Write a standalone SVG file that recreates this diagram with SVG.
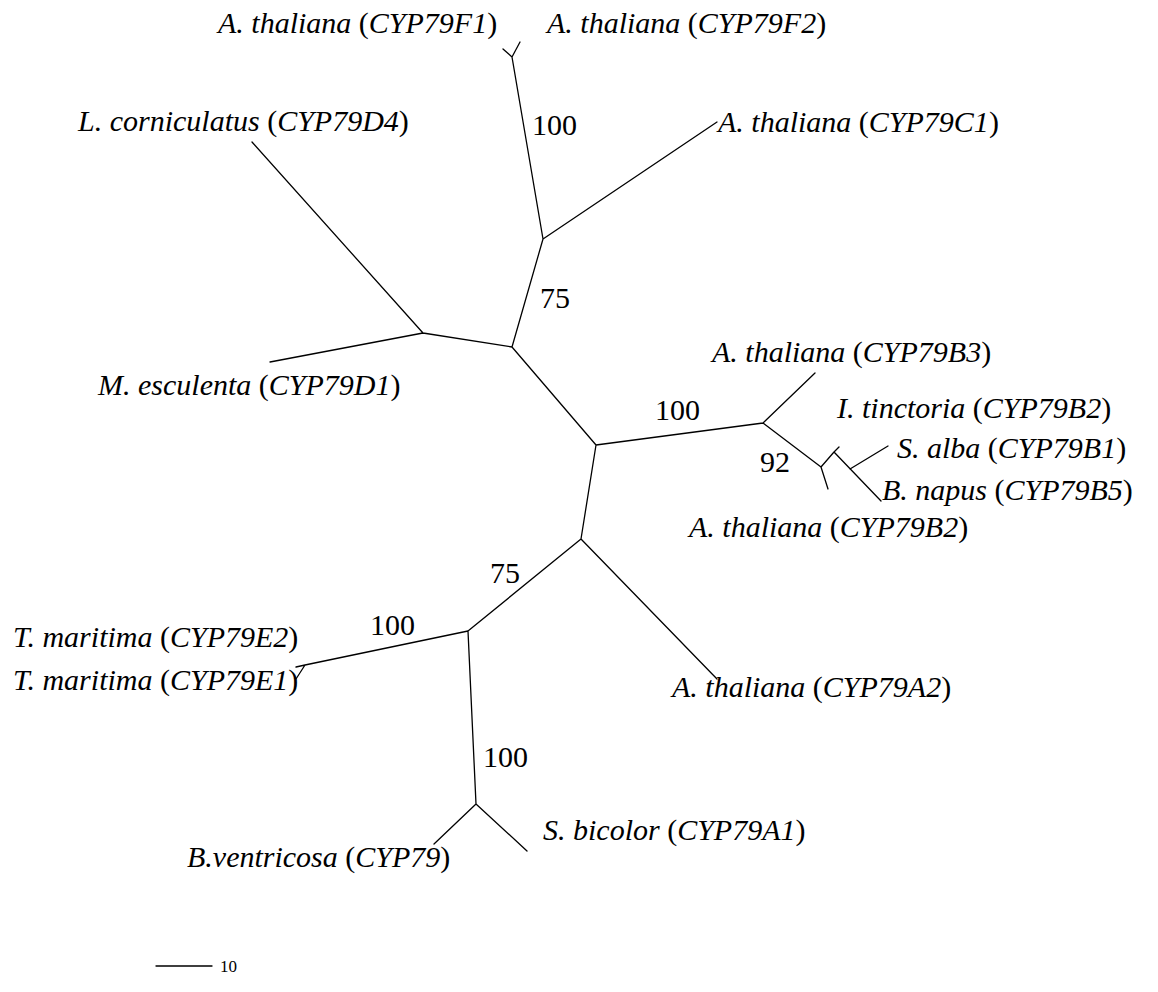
<svg xmlns="http://www.w3.org/2000/svg" width="1158" height="992" viewBox="0 0 1158 992">
<style>
.t{font-family:"Liberation Serif","Times New Roman",serif;font-size:30px;fill:#000}
.i{font-style:italic}
.b{font-family:"Liberation Serif","Times New Roman",serif;font-size:30px;fill:#000}
.s{font-family:"Liberation Serif","Times New Roman",serif;font-size:17px;fill:#000}
.e{stroke:#000;stroke-width:1.3;fill:none;stroke-linecap:round;stroke-linejoin:round}
</style>
<rect width="1158" height="992" fill="#fff"/>
<g id="connectors" class="e">
<path d="M512,57 L503,49 M512,57 L520,42 M512,57 L543,239 L717,122 M543,239 L512,347 L423,333 L252,142 M423,333 L270,362 M512,347 L596,445 L763,423 L815,373 M763,423 L821,467 L828,489 M821,467 L834,452 L839,447 M834,452 L881,501 M850,469 L888,446 M596,445 L581,539 L717,679 M581,539 L468,631 L305,665 L296,667 M305,665 L296,679 M468,631 L476,804 L434,844 M476,804 L527,851"/>
<path d="M156,966 L212,966"/>
</g>
<g id="n-F1"><text class="t" x="218" y="33"><tspan class="i">A. thaliana</tspan> (<tspan class="i">CYP79F1</tspan>)</text></g>
<g id="n-F2"><text class="t" x="547" y="33"><tspan class="i">A. thaliana</tspan> (<tspan class="i">CYP79F2</tspan>)</text></g>
<g id="n-C1"><text class="t" x="718" y="132"><tspan class="i">A. thaliana</tspan> (<tspan class="i">CYP79C1</tspan>)</text></g>
<g id="n-D4"><text class="t" x="78" y="131"><tspan class="i">L. corniculatus</tspan> (<tspan class="i">CYP79D4</tspan>)</text></g>
<g id="n-D1"><text class="t" x="98" y="395"><tspan class="i">M. esculenta</tspan> (<tspan class="i">CYP79D1</tspan>)</text></g>
<g id="n-B3"><text class="t" x="712" y="362"><tspan class="i">A. thaliana</tspan> (<tspan class="i">CYP79B3</tspan>)</text></g>
<g id="n-ItB2"><text class="t" x="837" y="418"><tspan class="i">I. tinctoria</tspan> (<tspan class="i">CYP79B2</tspan>)</text></g>
<g id="n-B1"><text class="t" x="897" y="458"><tspan class="i">S. alba</tspan> (<tspan class="i">CYP79B1</tspan>)</text></g>
<g id="n-B5"><text class="t" x="882" y="500"><tspan class="i">B. napus</tspan> (<tspan class="i">CYP79B5</tspan>)</text></g>
<g id="n-B2"><text class="t" x="689" y="537"><tspan class="i">A. thaliana</tspan> (<tspan class="i">CYP79B2</tspan>)</text></g>
<g id="n-E2"><text class="t" x="13" y="647"><tspan class="i">T. maritima</tspan> (<tspan class="i">CYP79E2</tspan>)</text></g>
<g id="n-E1"><text class="t" x="13" y="690"><tspan class="i">T. maritima</tspan> (<tspan class="i">CYP79E1</tspan>)</text></g>
<g id="n-A2"><text class="t" x="672" y="697"><tspan class="i">A. thaliana</tspan> (<tspan class="i">CYP79A2</tspan>)</text></g>
<g id="n-A1"><text class="t" x="543" y="840"><tspan class="i">S. bicolor</tspan> (<tspan class="i">CYP79A1</tspan>)</text></g>
<g id="n-Bv"><text class="t" x="187" y="867"><tspan class="i">B.ventricosa</tspan> (<tspan class="i">CYP79</tspan>)</text></g>
<g id="labels">
<text class="b" x="532" y="135">100</text>
<text class="b" x="540" y="308">75</text>
<text class="b" x="655" y="420">100</text>
<text class="b" x="760" y="472">92</text>
<text class="b" x="490" y="583">75</text>
<text class="b" x="370" y="635">100</text>
<text class="b" x="483" y="767">100</text>
<text class="s" x="220" y="972">10</text>
</g>
</svg>
